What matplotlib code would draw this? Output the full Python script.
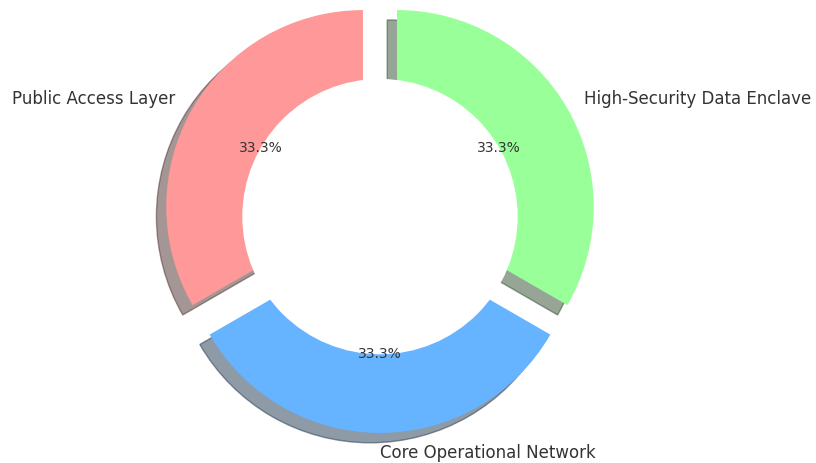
import matplotlib
matplotlib.use("Agg")
import matplotlib.pyplot as plt

labels = ['Public Access Layer', 'Core Operational Network', 'High-Security Data Enclave']
sizes = [1, 1, 1]
colors = ['#ff9999', '#66b3ff', '#99ff99']
explode = [0.1, 0.1, 0.1]

fig = plt.figure(figsize=(8.16, 4.63), dpi=100)
ax = fig.add_axes([0, 0, 1, 1])

ax.pie(sizes, labels=labels, colors=colors, explode=explode,
       autopct='%1.1f%%', startangle=90,
       shadow={'ox': -0.036, 'oy': -0.036},
       labeldistance=1.1, pctdistance=0.6,
       textprops={'color': '#333333'})
for t in ax.texts:
    if t.get_text().endswith('%'):
        t.set_fontsize(10)
    else:
        t.set_fontsize(12)

# white hole in the middle
centre_circle = plt.Circle((0, 0), 0.70, fc='white')
ax.add_artist(centre_circle)

ax.set_aspect('auto')
ax.set_xlim(-1.9319, 2.2166)
ax.set_ylim(-1.2527, 1.1012)
ax.axis('off')

fig.savefig('out.png', dpi=100)
